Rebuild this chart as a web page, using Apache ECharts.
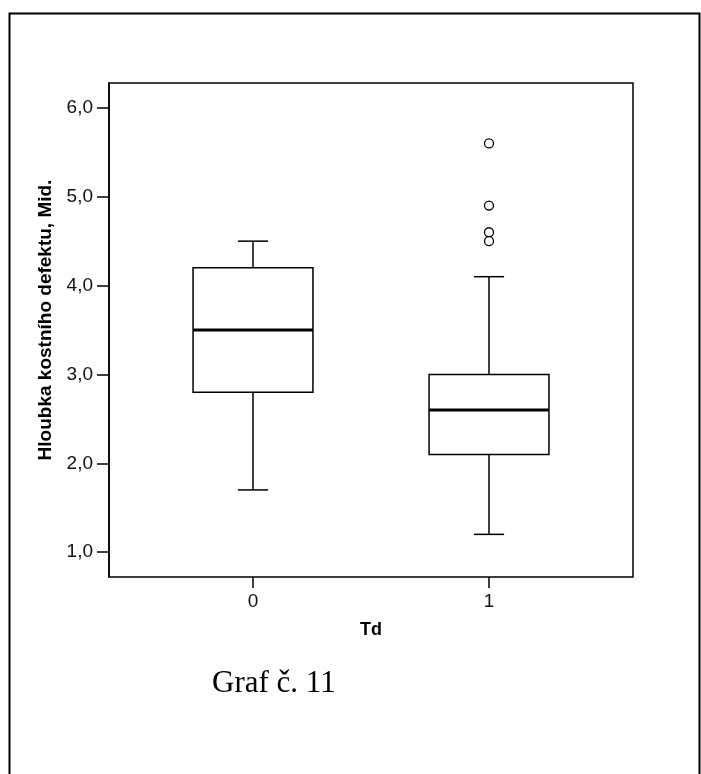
<!DOCTYPE html>
<html>
<head>
<meta charset="utf-8">
<script src="https://cdn.jsdelivr.net/npm/echarts@6/dist/echarts.min.js"></script>
<style>
  html, body { margin: 0; padding: 0; background: #fff; }
  #chart { width: 701px; height: 774px; }
</style>
</head>
<body>
<div id="chart"></div>
<script>
// Td groups
var categories = ['0', '1'];
// box statistics per group
var whiskerLow  = [1.7, 1.2];
var quartile1   = [2.8, 2.1];
var medians     = [3.5, 2.6];
var quartile3   = [4.2, 3.0];
var whiskerHigh = [4.5, 4.1];
// outliers of group "1"
var outlierGroup  = [1, 1, 1, 1];
var outlierValues = [5.6, 4.9, 4.6, 4.5];
// y axis ticks
var yTicks = [1, 2, 3, 4, 5, 6];

var boxData = categories.map(function (c, i) {
    return [i, whiskerLow[i], quartile1[i], medians[i], quartile3[i], whiskerHigh[i]];
});
var outlierData = outlierValues.map(function (v, i) {
    return [outlierGroup[i], v];
});

var FONT = '"Liberation Sans", Arial, sans-serif';
var myChart = echarts.init(document.getElementById('chart'));

var option = {
    backgroundColor: '#fff',
    animation: false,
    graphic: [{
        type: 'rect',
        shape: { x: 9.5, y: 13.5, width: 690, height: 800 },
        style: { fill: 'none', stroke: '#000', lineWidth: 2 }
    }, {
        type: 'text',
        left: 212,
        top: 668,
        style: {
            text: 'Graf č. 11',
            font: '31px "Liberation Serif", "Times New Roman", serif',
            fill: '#000'
        }
    }],
    grid: [
        // frame of the plot area
        { left: 109, top: 83, width: 524, height: 494, show: true, borderColor: '#000', borderWidth: 1.5, backgroundColor: 'transparent' },
        // data area (boxes sit inside the frame)
        { left: 135, top: 83, width: 472, height: 494 }
    ],
    xAxis: [
        { gridIndex: 0, type: 'value', show: false, min: 0, max: 1 },
        {
            gridIndex: 1,
            type: 'category',
            data: categories,
            boundaryGap: true,
            name: 'Td',
            nameLocation: 'middle',
            nameGap: 44,
            nameTextStyle: { fontFamily: FONT, fontWeight: 'bold', fontSize: 18, color: '#000' },
            axisLine: { show: false },
            axisTick: { show: true, alignWithLabel: true, length: 11, lineStyle: { color: '#000', width: 1.5 } },
            axisLabel: { margin: 15, fontFamily: FONT, fontSize: 19, color: '#111' },
            splitLine: { show: false }
        }
    ],
    yAxis: [
        {
            gridIndex: 0,
            type: 'value',
            min: 0.72,
            max: 6.28,
            name: 'Hloubka kostního defektu, Mid.',
            nameLocation: 'middle',
            nameGap: 44,
            nameTextStyle: { fontFamily: FONT, fontWeight: 'bold', fontSize: 19, color: '#000', padding: [0, 0, 0, 20] },
            axisLine: { show: true, lineStyle: { color: '#000', width: 1.5 } },
            axisTick: { show: true, length: 12, customValues: yTicks, lineStyle: { color: '#000', width: 1.5 } },
            axisLabel: {
                margin: 16,
                customValues: yTicks,
                fontFamily: FONT,
                fontSize: 19,
                color: '#111',
                formatter: function (v) { return v.toFixed(1).replace('.', ','); }
            },
            splitLine: { show: false }
        },
        { gridIndex: 1, type: 'value', min: 0.72, max: 6.28, show: false }
    ],
    series: [{
        type: 'custom',
        xAxisIndex: 1,
        yAxisIndex: 1,
        data: boxData,
        encode: { x: 0, y: [1, 2, 3, 4, 5] },
        renderItem: function (params, api) {
            var x = api.value(0);
            var band = api.size([1, 0])[0];
            var half = band * 0.254;
            var cap = band * 0.064;
            var lo = api.coord([x, api.value(1)]);
            var q1 = api.coord([x, api.value(2)]);
            var md = api.coord([x, api.value(3)]);
            var q3 = api.coord([x, api.value(4)]);
            var hi = api.coord([x, api.value(5)]);
            var cx = lo[0];
            var line = { stroke: '#000', lineWidth: 1.5 };
            return {
                type: 'group',
                children: [
                    { type: 'line', shape: { x1: cx, y1: lo[1], x2: cx, y2: q1[1] }, style: line },
                    { type: 'line', shape: { x1: cx, y1: q3[1], x2: cx, y2: hi[1] }, style: line },
                    { type: 'line', shape: { x1: cx - cap, y1: lo[1], x2: cx + cap, y2: lo[1] }, style: line },
                    { type: 'line', shape: { x1: cx - cap, y1: hi[1], x2: cx + cap, y2: hi[1] }, style: line },
                    { type: 'rect', shape: { x: cx - half, y: q3[1], width: half * 2, height: q1[1] - q3[1] }, style: { fill: '#fff', stroke: '#000', lineWidth: 1.5 } },
                    { type: 'line', shape: { x1: cx - half, y1: md[1], x2: cx + half, y2: md[1] }, style: { stroke: '#000', lineWidth: 3 } }
                ]
            };
        }
    }, {
        type: 'scatter',
        xAxisIndex: 1,
        yAxisIndex: 1,
        data: outlierData,
        symbol: 'circle',
        symbolSize: 9,
        itemStyle: { color: '#fff', borderColor: '#000', borderWidth: 1.3, opacity: 1 }
    }]
};

myChart.setOption(option);
window.onresize = function () {
    myChart.resize();
};
</script>
</body>
</html>
